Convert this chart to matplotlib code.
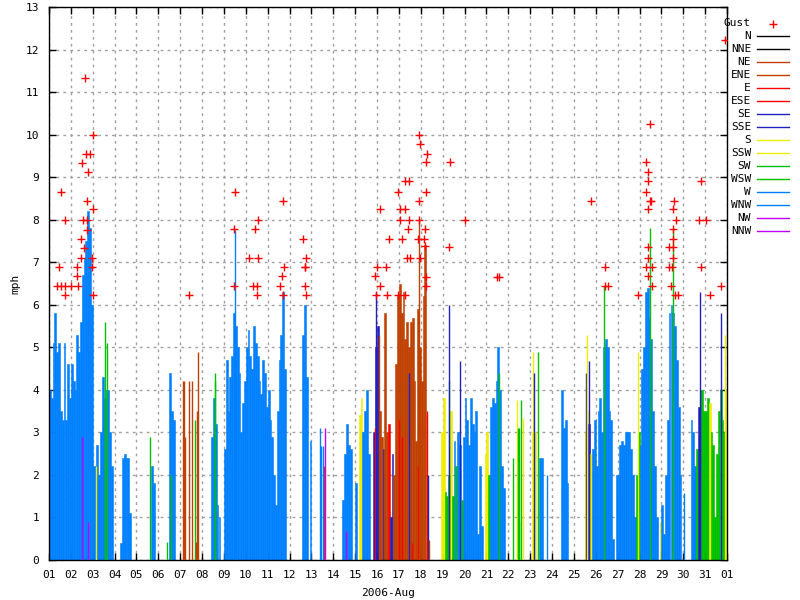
import matplotlib
matplotlib.use("Agg")
import matplotlib.pyplot as plt
from matplotlib.lines import Line2D
import numpy as np

# wind speed, 2-hour slots, 12 per day (mph), August 2006
speed = [
    4.0, 3.8, 5.1, 5.8, 4.9, 5.1, 3.5, 3.3, 5.1, 3.3, 4.6, 3.8,  # 01
    4.6, 4.2, 4.0, 5.3, 4.9, 5.6, 6.7, 7.1, 7.5, 8.2, 7.8, 6.0,  # 02
    2.2, 2.2, 2.7, 2.0, 3.0, 4.3, 3.8, 4.0, 4.0, 3.0, 2.2, 0,    # 03
    0, 0, 0, 0.4, 2.4, 2.5, 2.4, 2.4, 1.1, 0, 0, 0,              # 04
    0, 0, 0, 0, 0, 0, 0, 0, 2.2, 1.8, 0, 0,                      # 05
    0, 0, 0, 0, 0, 0, 4.4, 3.5, 3.3, 0, 0, 0,                    # 06
    0, 0, 0, 0, 0, 0, 0, 0, 0, 0, 0, 0,                          # 07
    0, 0, 0, 0, 0, 2.9, 3.8, 3.2, 1.3, 1.0, 0, 0,                # 08
    2.6, 4.7, 3.5, 4.3, 4.8, 5.8, 5.5, 5.0, 4.4, 3.0, 3.7, 4.2,  # 09
    5.0, 5.4, 4.8, 4.5, 5.5, 5.1, 4.8, 4.2, 3.9, 4.7, 4.4, 3.6,  # 10
    4.0, 3.3, 2.9, 2.0, 1.3, 3.5, 4.7, 5.3, 6.3, 4.5, 0, 0,      # 11
    0, 0, 0, 0, 0, 0, 0, 5.3, 6.0, 4.3, 0, 2.8,                  # 12
    0, 0, 0, 0, 0, 0, 0, 0, 0, 0, 0, 0,                          # 13
    0, 0, 0, 0, 0, 1.4, 2.5, 3.2, 2.7, 2.6, 0, 0,                # 14
    1.8, 0, 3.4, 3.8, 3.0, 3.5, 4.0, 2.5, 0, 0, 3.0, 5.0,        # 15
    5.5, 3.5, 2.9, 2.6, 5.8, 3.0, 3.2, 1.0, 2.5, 2.0, 4.6, 6.2,  # 16
    6.5, 5.8, 6.3, 5.2, 5.6, 5.0, 5.6, 5.7, 4.2, 2.8, 5.9, 5.0,  # 17
    4.2, 6.2, 7.4, 0, 0, 0, 0, 0, 0, 0, 0, 3.0,                  # 18
    3.8, 1.6, 1.5, 2.0, 3.5, 1.5, 2.8, 2.2, 3.0, 2.7, 1.4, 2.9,  # 19
    3.8, 3.3, 2.7, 3.8, 3.2, 3.0, 3.5, 0.6, 2.2, 0.8, 0, 2.5,    # 20
    3.0, 2.0, 3.6, 3.8, 3.7, 4.2, 5.0, 4.0, 2.2, 1.7, 0, 0,      # 21
    0, 0, 0, 0, 0, 0, 0, 0, 0, 0, 0, 0,                          # 22
    0, 3.0, 3.0, 0, 0, 2.4, 2.4, 0, 0, 0, 0, 0,                  # 23
    0, 0, 0, 0, 0, 4.0, 3.1, 3.3, 1.8, 0, 0, 0,                  # 24
    0, 0, 0, 0, 0, 0, 3.0, 3.5, 3.2, 2.5, 2.6, 3.3,              # 25
    2.2, 3.5, 3.8, 3.0, 5.0, 5.2, 5.0, 3.5, 3.3, 0.5, 0, 2.0,    # 26
    2.0, 2.7, 2.8, 2.7, 3.0, 3.0, 3.0, 2.6, 2.0, 1.0, 2.0, 3.0,  # 27
    2.7, 4.5, 5.0, 6.3, 6.4, 5.7, 5.2, 3.5, 2.2, 1.0, 0, 0.9,    # 28
    1.3, 0.6, 2.0, 3.3, 5.8, 6.0, 5.8, 5.5, 4.7, 3.6, 2.0, 0,    # 29
    0, 0, 0, 0, 3.3, 3.0, 2.2, 2.6, 3.6, 4.0, 4.0, 3.5,          # 30
    3.5, 3.8, 3.7, 3.0, 2.7, 1.0, 2.5, 3.5, 4.0, 3.3, 3.0, 4.0,  # 31
]

# dominant direction per slot, one string per day
slot_dir = [
    "W W W W W W W W W W W W",
    "W W W W W W W W W W W W",
    "W W W W W W W W W W W W",
    "W W W W W W W W W W W W",
    "W W W W W W W W W W W W",
    "W W W W W W W W W W W W",
    "W W W W W W W W W W W W",
    "W W W W W W W W W W W W",
    "W W W W W W W W W W W W",
    "W W W W W W W W W W W W",
    "W W W W W W W W W W W W",
    "W W W W W W W W W W W W",
    "W W W W W W W W W W W W",
    "W W W W W W W W W W W W",
    "W W S S W W W W W W SE SE",
    "SE NE NE SE ENE ENE E SE SE ENE ENE ENE",
    "ENE ENE ENE ENE ENE ENE ENE ENE ENE ENE ENE ENE",
    "ENE ENE ENE W W W W W W W W S",
    "S SW SW SW S SW W SW W W SW W",
    "W W W W W W W W W W W S",
    "S SW W W W W W W W W W W",
    "W W W W W W W W W W W W",
    "W S S W W W W W W W W W",
    "W W W W W W W W W W W W",
    "W W W W W W S S SE S W W",
    "W W W W W W W W W W W W",
    "W W W W W W W W W W SW SW",
    "W W W W W W W W W W W S",
    "W W W W W W W W W W W W",
    "W W W W W W W SW SE SE SW SW",
    "SW SW S SW SW SW SW SW SW SW SW S",
]

# single readings that stand out (day offset from Aug 1, mph, direction)
spike_day = [1.51, 1.80, 2.15, 2.57, 2.66, 4.63, 5.40, 5.57,
             6.12, 6.15, 6.19, 6.23, 6.39, 6.53, 6.67, 6.70, 6.76, 6.80,
             7.58, 7.61, 8.49, 12.39, 12.44, 12.51, 12.56, 12.60, 13.58,
             14.90, 14.95, 15.10, 16.00, 16.15, 16.44, 16.60, 16.85, 16.93,
             17.27, 17.32, 17.37, 18.28, 18.31, 18.78, 20.58,
             21.23, 21.38, 21.41, 21.44, 21.47, 21.50, 21.59, 21.68,
             22.13, 22.18, 22.37, 22.75, 24.55, 24.61, 24.70, 25.39,
             26.93, 27.46, 28.55, 29.04, 29.77, 30.73, 30.91]
spike_mph = [2.9, 0.9, 2.2, 5.6, 5.1, 2.9, 0.43, 2.0,
             4.2, 4.2, 2.9, 2.9, 4.2, 4.2, 3.3, 0.43, 3.5, 4.9,
             4.4, 4.2, 7.76, 3.1, 2.67, 2.67, 2.2, 3.1, 0.67,
             3.1, 6.3, 5.3, 3.3, 2.9, 4.4, 0.4, 2.2, 8.0,
             3.5, 2.0, 0.47, 4.2, 6.0, 4.67, 4.4,
             2.4, 1.8, 3.76, 3.1, 3.1, 0.9, 3.76, 3.33,
             4.9, 4.4, 4.9, 2.0, 4.4, 5.3, 4.67, 6.43,
             4.9, 7.8, 7.8, 1.57, 6.3, 5.8, 5.3]
spike_dir = ["NW", "NW", "S", "SW", "SW", "SW", "SW", "SW",
             "NE", "NE", "NE", "NE", "NE", "NE", "SW", "NE", "NE", "NE",
             "SW", "SW", "W", "W", "W", "W", "NE", "NW", "NW",
             "E", "SE", "NE", "E", "E", "SE", "E", "E", "ENE",
             "E", "SE", "NE", "SW", "SE", "SE", "SW",
             "SW", "S", "S", "SW", "SW", "SW", "SW", "S",
             "S", "SE", "SW", "W", "SE", "S", "SE", "SW",
             "S", "SW", "SW", "W", "SE", "SE", "S"]

gust_day = [0.35, 0.53, 0.72, 0.99, 1.32, 0.72, 1.99, 0.47, 1.29, 1.97, 1.29,
            1.47, 1.97, 1.60, 1.45, 1.76, 0.72, 1.54, 1.72, 1.99, 1.76, 0.53,
            1.78, 1.49, 1.70, 1.86, 1.99, 1.65,
            6.41, 8.51, 8.46, 8.46, 9.13, 9.56, 9.42, 9.56, 9.33, 9.53, 9.53,
            10.70, 10.76, 10.64, 10.58, 10.70, 11.61, 11.74, 11.70, 11.72, 11.70, 11.77,
            15.13, 14.99, 14.92, 15.13, 14.95,
            16.93, 16.96, 17.27, 17.25, 18.33, 16.29, 16.45, 15.95, 17.23, 16.91,
            16.03, 16.26, 16.03, 16.44, 16.93, 19.04, 16.41, 17.18, 15.54, 16.13,
            16.85, 17.14, 17.20, 18.28, 16.35, 16.50, 16.96, 15.42, 17.23, 15.47,
            15.95, 16.26, 17.23, 20.49, 20.58,
            24.76, 25.40, 25.42, 25.57,
            27.46, 27.31, 27.41, 27.40, 27.31, 27.46, 27.52, 27.37, 27.37, 27.41,
            27.31, 27.55, 27.41, 27.55, 26.95,
            28.58, 28.52, 28.68, 28.55, 28.55, 28.37, 28.55, 28.51, 28.37, 28.48,
            28.46, 28.64, 28.77,
            29.82, 29.74, 30.03, 29.82, 30.20, 30.74, 30.90]
gust_mph = [6.45, 6.45, 6.45, 6.45, 6.45, 6.23, 6.23, 6.89, 6.89, 6.89, 6.67,
            7.11, 7.11, 7.33, 7.55, 7.76, 8.0, 8.0, 8.0, 8.24, 8.44, 8.66,
            9.11, 9.33, 9.55, 9.55, 10.0, 11.33,
            6.23, 8.65, 7.78, 6.45, 7.1, 7.1, 7.78, 8.0, 6.45, 6.45, 6.23,
            8.45, 6.89, 6.67, 6.45, 6.23, 7.55, 7.1, 6.89, 6.89, 6.45, 6.23,
            8.24, 6.89, 6.67, 6.45, 6.23,
            10.0, 9.79, 9.55, 9.35, 9.35, 8.9, 8.9, 8.65, 8.65, 8.45,
            8.24, 8.24, 8.0, 8.0, 8.0, 8.0, 7.78, 7.78, 7.55, 7.55,
            7.55, 7.55, 7.37, 7.35, 7.1, 7.1, 7.1, 6.89, 6.65, 6.23,
            6.23, 6.23, 6.45, 6.65, 6.65,
            8.45, 6.89, 6.45, 6.45,
            10.24, 9.35, 9.11, 8.9, 8.65, 8.45, 8.45, 8.24, 7.35, 7.1,
            6.89, 6.89, 6.67, 6.45, 6.23,
            8.45, 8.24, 8.0, 7.78, 7.55, 7.35, 7.35, 7.1, 6.89, 6.89,
            6.45, 6.23, 6.23,
            8.9, 8.0, 8.0, 6.89, 6.23, 6.45, 12.22]

directions = ["N", "NNE", "NE", "ENE", "E", "ESE", "SE", "SSE",
              "S", "SSW", "SW", "WSW", "W", "WNW", "NW", "NNW"]
day_labels = ["%02d" % d for d in range(1, 32)] + ["01"]

pair_colors = ["#000000", "#c04000", "#ff0000", "#2020c0",
               "#eeee00", "#00c000", "#0080ff", "#c000ff"]
dir_color = {d: pair_colors[i // 2] for i, d in enumerate(directions)}

plt.rcParams["font.family"] = "DejaVu Sans Mono"
plt.rcParams["font.size"] = 8

fig = plt.figure(figsize=(8, 6), dpi=100)
ax = fig.add_axes([49 / 800, 40 / 600, 678 / 800, 553 / 600])

slot = 1 / 12
x = np.arange(len(speed)) * slot
dirs = " ".join(slot_dir).split()
cols = [dir_color[d] for d in dirs]
ax.bar(x, speed, width=slot, align="edge", color=cols, edgecolor=cols,
       linewidth=0.4, zorder=2)

ax.vlines(spike_day, 0, spike_mph, colors=[dir_color[d] for d in spike_dir],
          linewidth=1, zorder=3)

ax.plot(gust_day, gust_mph, "+", color="red", ms=6, mew=1, zorder=5)

ax.set_xlim(0, 31)
ax.set_ylim(0, 13)
ax.set_xticks(range(32))
ax.set_xticklabels(day_labels)
ax.set_yticks(range(14))
ax.tick_params(direction="in", length=5, width=1, top=True, right=True, pad=7)
ax.grid(True, color="#a0a0a0", linestyle=(0, (2, 3)), linewidth=1, zorder=0)
ax.set_axisbelow(True)
for s in ax.spines.values():
    s.set_linewidth(1)

ax.set_xlabel("2006-Aug", labelpad=6)
ax.set_ylabel("mph", labelpad=4)

# key on the right, gnuplot style
row0, step = 23.5, 12.95
fig.text(751 / 800, 1 - row0 / 600, "Gust", ha="right", va="center")
fig.add_artist(Line2D([773 / 800], [1 - row0 / 600], marker="+", color="red",
                      ms=6, mew=1, linestyle="none", transform=fig.transFigure))
for i, d in enumerate(directions):
    y = 1 - (row0 + step * (i + 1)) / 600
    fig.text(751 / 800, y, d, ha="right", va="center")
    fig.add_artist(Line2D([757 / 800, 789 / 800], [y, y], color=dir_color[d],
                          linewidth=1, transform=fig.transFigure))

fig.savefig("out.png", dpi=100)
